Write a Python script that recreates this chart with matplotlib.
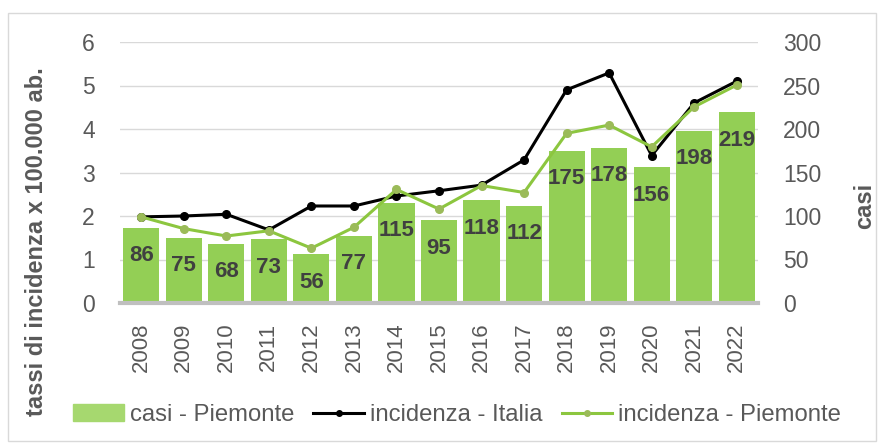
import numpy as np
import matplotlib
matplotlib.use("Agg")
import matplotlib.pyplot as plt
from matplotlib.patches import Rectangle
from matplotlib.lines import Line2D

plt.rcParams['font.family'] = ['Liberation Sans', 'DejaVu Sans']

# ---- dati ----
anni = ['2008', '2009', '2010', '2011', '2012', '2013', '2014', '2015',
        '2016', '2017', '2018', '2019', '2020', '2021', '2022']
casi_piemonte = [86, 75, 68, 73, 56, 77, 115, 95, 118, 112, 175, 178, 156, 198, 219]
inc_italia = [1.98, 2.00, 2.04, 1.68, 2.23, 2.23, 2.46, 2.58, 2.71, 3.29,
              4.90, 5.29, 3.39, 4.60, 5.10]
inc_piemonte = [1.98, 1.71, 1.54, 1.66, 1.26, 1.74, 2.61, 2.16, 2.70, 2.54,
                3.90, 4.09, 3.59, 4.51, 5.01]

grigio = '#595959'
verde_barre = '#93CF55'
verde_linea = '#8CC63F'
verde_marker = '#9BBB59'

fig = plt.figure(figsize=(8.83, 4.47), dpi=100)
ax1 = fig.add_axes([120/883, 1 - 303/447, 638/883, 261/447])
ax2 = ax1.twinx()

x = np.arange(len(anni))

# barre sull'asse destro
bars = ax2.bar(x, casi_piemonte, 0.85, color=verde_barre, zorder=2)
ax2.set_ylim(0, 300)
ax2.set_yticks(np.arange(0, 301, 50))
ax2.grid(axis='y', color='#D9D9D9', linewidth=1, zorder=0)
ax2.set_axisbelow(True)

for rect, v in zip(bars, casi_piemonte):
    ax2.annotate('%d' % v, (rect.get_x() + rect.get_width()/2., rect.get_height()),
                 xytext=(0, -20), textcoords='offset points',
                 ha='center', va='center', fontsize=16, fontweight='bold',
                 color='#404040', zorder=3)

# linee sull'asse sinistro
ax1.set_zorder(ax2.get_zorder() + 1)
ax1.patch.set_visible(False)
ax1.plot(x, inc_italia, color='black', linewidth=2.2, marker='o', markersize=5.5)
ax1.plot(x, inc_piemonte, color=verde_linea, linewidth=2.2, marker='o',
         markersize=5.5, markerfacecolor=verde_marker, markeredgecolor=verde_marker)
ax1.set_ylim(0, 6)
ax1.set_yticks(np.arange(0, 7, 1))
ax1.set_xlim(-0.5, len(anni) - 0.5)
ax1.set_xticks(x)
ax1.set_xticklabels(anni, rotation=90, fontsize=16, color=grigio)

for ax in (ax1, ax2):
    for s in ('top', 'left', 'right', 'bottom'):
        ax.spines[s].set_visible(False)
    ax.tick_params(length=0)
    ax.tick_params(axis='y', labelsize=16.5, labelcolor=grigio, pad=18)
ax1.tick_params(axis='x', pad=14)
ax1.axhline(0, color='#BFBFBF', linewidth=3, zorder=5, clip_on=False)

ax1.set_ylabel('tassi di incidenza x 100.000 ab.', fontsize=17, fontweight='bold',
               color=grigio)
ax2.set_ylabel('casi', fontsize=17, fontweight='bold', color=grigio)
ax1.yaxis.set_label_coords(-0.113, 0.236)
ax2.yaxis.set_label_coords(1.149, 0.372)

# legenda
handles = [Rectangle((0, 0), 1, 1, color='#A6D86F'),
           Line2D([], [], color='black', linewidth=2.2, marker='o', markersize=4),
           Line2D([], [], color=verde_linea, linewidth=2.2, marker='o', markersize=4,
                  markerfacecolor=verde_marker, markeredgecolor=verde_marker)]
fig.legend(handles, ['casi - Piemonte', 'incidenza - Italia', 'incidenza - Piemonte'],
           loc='center', bbox_to_anchor=(0.5176, 1 - 415/447), ncol=3, frameon=False,
           fontsize=17.2, labelcolor=grigio, handlelength=2.13, handletextpad=0.25,
           columnspacing=0.8, numpoints=1, borderpad=0, borderaxespad=0)

# bordo esterno
fig.patches.append(Rectangle((8/883, 1 - 441/447), 868/883, 428/447,
                             transform=fig.transFigure, fill=False,
                             edgecolor='#D9D9D9', linewidth=1))

fig.savefig('out.png', dpi=100)
